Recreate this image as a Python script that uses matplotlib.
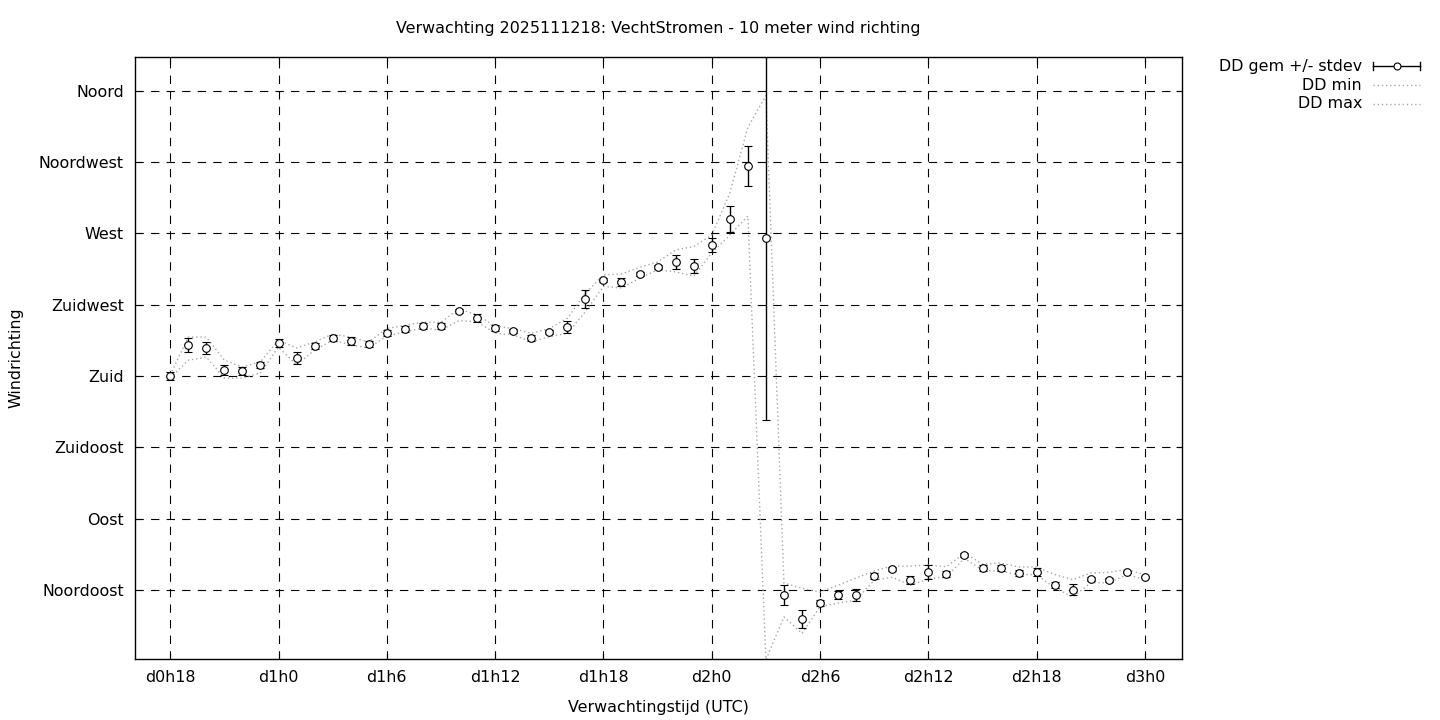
"""Wind direction forecast (ensemble mean +/- stdev, min and max) in gnuplot style."""

import matplotlib
matplotlib.use("Agg")
import matplotlib.pyplot as plt
from matplotlib.lines import Line2D

# forecast hour since d0h0, one value per hour
HOURS = list(range(18, 73))

DD_MEAN = [180.0, 199.6, 197.7, 183.8, 183.2, 186.9, 200.8, 191.4, 198.9, 204.0,
           202.0, 200.2, 207.1, 209.7, 211.6, 211.6, 221.0, 216.6, 210.3, 208.4,
           204.0, 207.8, 210.9, 228.6, 240.6, 239.3, 244.4, 248.8, 252.0, 249.4,
           262.7, 279.1, 312.6, 267.1, 41.7, 26.6, 36.7, 41.7, 41.7, 53.7,
           58.2, 51.2, 56.3, 55.0, 67.0, 58.8, 58.8, 55.6, 56.3, 48.0,
           45.0, 51.9, 51.2, 56.3, 53.1]

DD_STDEV = [2.5, 4.4, 3.8, 3.2, 2.5, 1.9, 2.5, 3.8, 1.9, 1.9,
            2.5, 1.9, 1.9, 1.6, 1.6, 1.6, 1.3, 2.5, 1.9, 1.3,
            1.9, 1.3, 3.8, 5.7, 1.3, 2.5, 1.3, 1.3, 4.7, 4.4,
            4.4, 8.2, 12.6, 115.0, 6.3, 5.6, 1.9, 2.5, 3.8, 2.0,
            1.3, 2.5, 4.5, 2.0, 1.0, 1.9, 1.9, 1.9, 2.5, 1.9,
            3.5, 1.3, 1.3, 0.8, 0.8]

DD_MIN = [178.7, 190.0, 192.0, 178.7, 178.7, 182.0, 198.3, 187.0, 196.4, 202.7,
          199.6, 197.7, 205.3, 207.8, 210.3, 209.0, 215.0, 214.3, 207.0, 206.0,
          201.7, 204.8, 207.0, 220.6, 236.6, 235.6, 241.7, 247.0, 245.8, 243.0,
          257.6, 269.0, 281.0, 1.0, 28.0, 17.5, 34.4, 36.7, 38.6, 51.2,
          53.0, 48.0, 51.8, 53.4, 65.0, 57.4, 56.8, 54.7, 54.7, 46.3,
          40.6, 49.5, 49.5, 54.7, 51.5]

DD_MAX = [180.6, 204.6, 204.6, 190.0, 185.7, 189.0, 202.7, 197.7, 201.5, 206.5,
          204.6, 201.5, 210.0, 212.0, 214.0, 214.0, 222.6, 218.5, 211.6, 210.0,
          207.0, 210.0, 216.4, 232.2, 243.9, 244.4, 248.6, 252.0, 259.6, 261.7,
          269.0, 295.5, 337.0, 357.0, 49.3, 46.0, 43.6, 48.0, 52.5, 57.0,
          60.0, 60.0, 60.8, 59.6, 68.3, 61.3, 62.0, 59.5, 59.5, 54.7,
          51.5, 55.7, 56.1, 57.8, 54.7]

X_TICKS = [18, 24, 30, 36, 42, 48, 54, 60, 66, 72]
X_LABELS = ["d0h18", "d1h0", "d1h6", "d1h12", "d1h18",
            "d2h0", "d2h6", "d2h12", "d2h18", "d3h0"]

Y_TICKS = [45, 90, 135, 180, 225, 270, 315, 360]
Y_LABELS = ["Noordoost", "Oost", "Zuidoost", "Zuid",
            "Zuidwest", "West", "Noordwest", "Noord"]

TITLE = "Verwachting 2025111218: VechtStromen - 10 meter wind richting"

FS = 11.4
plt.rcParams["font.family"] = "DejaVu Sans"
plt.rcParams["font.size"] = FS

fig = plt.figure(figsize=(14.4, 7.2), dpi=100)
ax = fig.add_axes([135 / 1440, 1 - 659 / 720, (1182 - 135) / 1440, (659 - 57) / 720])

MINMAX_STYLE = dict(color="#a8a8a8", linestyle=(0, (1, 2)), linewidth=1.0)

ax.plot(HOURS, DD_MIN, **MINMAX_STYLE, zorder=2)
ax.plot(HOURS, DD_MAX, **MINMAX_STYLE, zorder=2)
ax.errorbar(HOURS, DD_MEAN, yerr=DD_STDEV, fmt="o", color="black",
            markerfacecolor="white", markeredgecolor="black", markersize=5.5,
            markeredgewidth=0.8, elinewidth=1.0, capsize=3, capthick=1.0, zorder=3)

ax.set_xlim(16.05, 74.05)
ax.set_ylim(1.4, 381.4)
ax.set_xticks(X_TICKS, X_LABELS)
ax.set_yticks(Y_TICKS, Y_LABELS)
ax.tick_params(direction="in", length=4, width=0.8, top=True, right=True,
               labeltop=False, labelright=False, labelsize=FS, pad=8)
ax.grid(True, color="black", linewidth=0.8, linestyle=(0, (7.5, 6.5)))
ax.set_axisbelow(True)
for sp in ax.spines.values():
    sp.set_linewidth(1.0)

ax.set_xlabel("Verwachtingstijd (UTC)", fontsize=FS, labelpad=11)
ax.set_ylabel("Windrichting", fontsize=FS, labelpad=11)
fig.text(658 / 1440, 1 - 29 / 720, TITLE, ha="center", va="center", fontsize=FS)

# gnuplot-like legend: right-aligned labels, sample to the right
rows = [("DD gem +/- stdev", "err"), ("DD min", "dot"), ("DD max", "dot")]
x_txt, x0, x1 = 1362 / 1440, 1373 / 1440, 1420 / 1440
for i, (label, kind) in enumerate(rows):
    y = 1 - (66 + 19 * i) / 720
    fig.text(x_txt, y, label, ha="right", va="center", fontsize=FS)
    if kind == "err":
        fig.add_artist(Line2D([x0, x1], [y, y], color="black", lw=1.0,
                              transform=fig.transFigure))
        for xc in (x0, x1):
            fig.add_artist(Line2D([xc, xc], [y - 4 / 720, y + 4 / 720],
                                  color="black", lw=1.0, transform=fig.transFigure))
        fig.add_artist(Line2D([(x0 + x1) / 2], [y], marker="o", markersize=5,
                              markerfacecolor="white", markeredgecolor="black",
                              markeredgewidth=0.8, transform=fig.transFigure))
    else:
        fig.add_artist(Line2D([x0, x1], [y, y], transform=fig.transFigure,
                              **MINMAX_STYLE))

fig.savefig("out.png", dpi=100)
